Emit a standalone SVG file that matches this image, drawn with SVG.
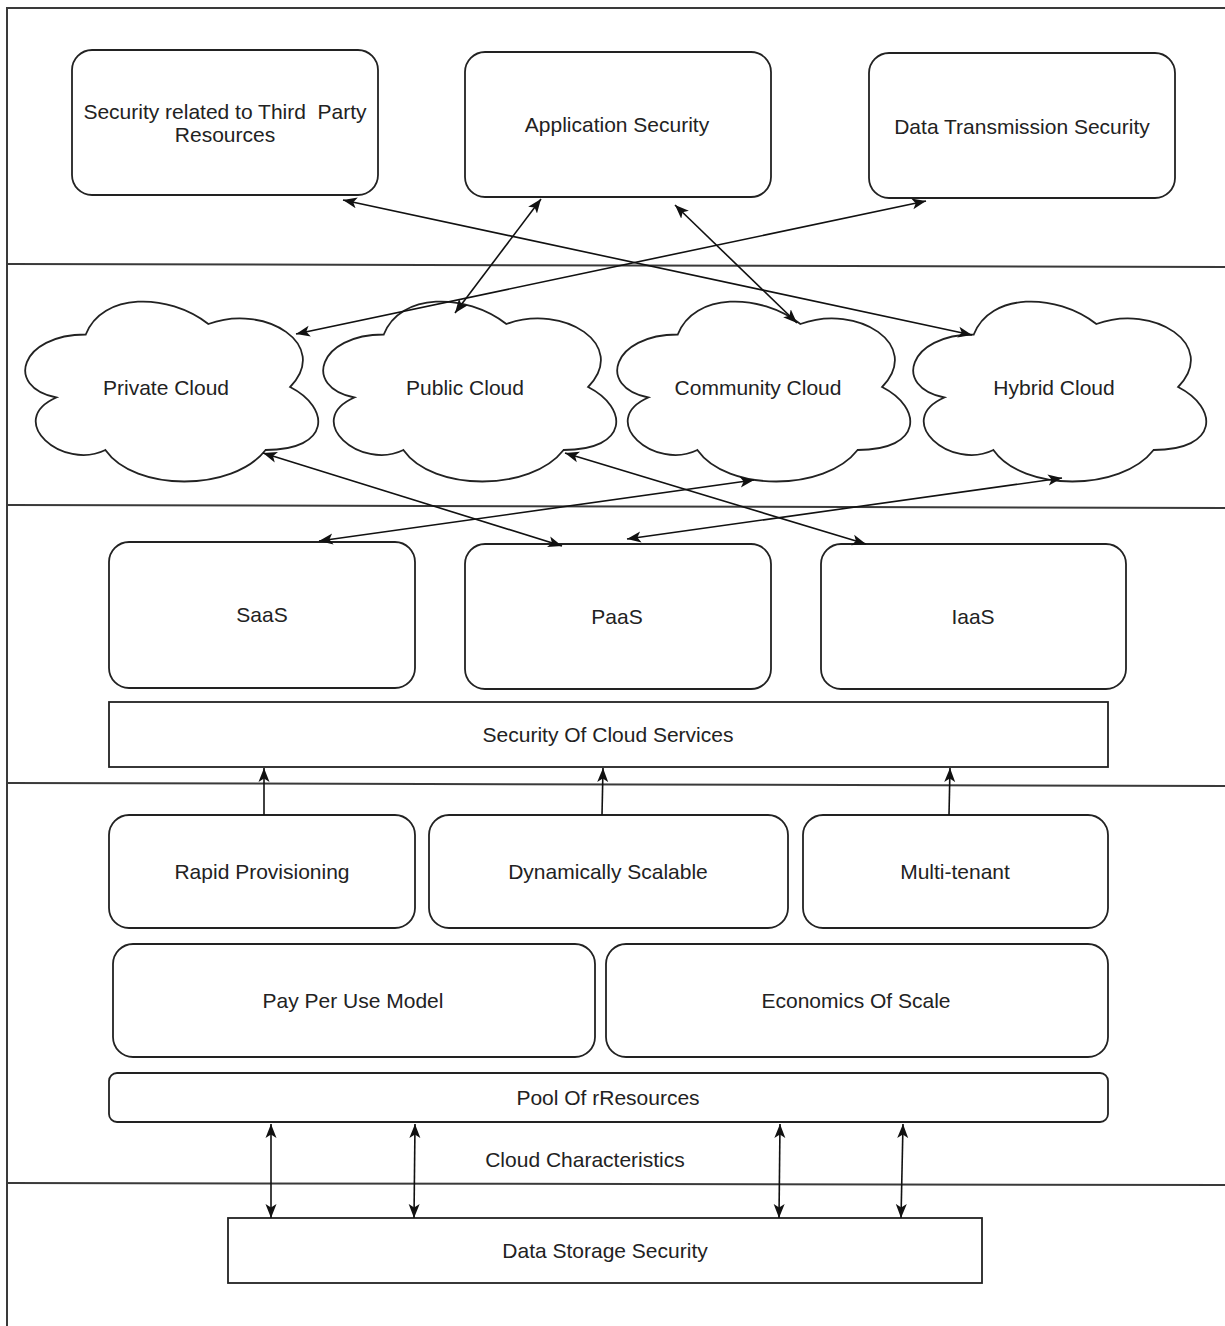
<svg xmlns="http://www.w3.org/2000/svg" xmlns:xlink="http://www.w3.org/1999/xlink" width="1225" height="1326" viewBox="0 0 1225 1326">
<style>
  .box { fill: #fff; stroke: #222; stroke-width: 1.8; }
  .lbl { font-family: "Liberation Sans", Arial, sans-serif; font-size: 21px; fill: #222; text-anchor: middle; white-space: pre; }
  .sep { stroke: #3a3a3a; stroke-width: 2; fill: none; }
  .con { stroke: #111; stroke-width: 1.6; fill: none; }
</style>
<defs>
  <marker id="ah" markerWidth="16" markerHeight="14" viewBox="0 0 16 14" refX="14" refY="7" orient="auto-start-reverse" markerUnits="userSpaceOnUse">
    <path d="M0,1.5 L14,7 L0,12.5 L3.5,7 Z" fill="#111"/>
  </marker>
  <path id="cloud" d="M81.75,52.5 C16.35,52.5 0,105 52.32,115.5 C0,138.6 58.86,189 101.37,168 C130.8,210 228.9,210 261.6,168 C327,168 327,126 286.13,105 C327,63 261.6,21 204.38,42 C163.5,10.5 98.1,10.5 81.75,52.5 Z"/>
</defs>
<rect width="1225" height="1326" fill="#fff"/>

<g id="frame">
  <path class="sep" d="M7,1326 V8 H1225"/>
  <line class="sep" x1="7" y1="264" x2="1225" y2="267"/>
  <line class="sep" x1="7" y1="505" x2="1225" y2="508"/>
  <line class="sep" x1="7" y1="783" x2="1225" y2="786"/>
  <line class="sep" x1="7" y1="1183" x2="1225" y2="1185"/>
</g>

<g id="third-party">
  <rect class="box" x="72" y="50" width="306" height="145" rx="20"/>
  <text class="lbl" x="225" y="119" xml:space="preserve">Security related to Third  Party</text>
  <text class="lbl" x="225" y="142">Resources</text>
</g>
<g id="app-security">
  <rect class="box" x="465" y="52" width="306" height="145" rx="20"/>
  <text class="lbl" x="617" y="132">Application Security</text>
</g>
<g id="data-transmission">
  <rect class="box" x="869" y="53" width="306" height="145" rx="20"/>
  <text class="lbl" x="1022" y="134">Data Transmission Security</text>
</g>

<g id="private-cloud">
  <use xlink:href="#cloud" href="#cloud" transform="translate(4,282)" class="box"/>
  <text class="lbl" x="166" y="395">Private Cloud</text>
</g>
<g id="public-cloud">
  <use xlink:href="#cloud" href="#cloud" transform="translate(302,282)" class="box"/>
  <text class="lbl" x="465" y="395">Public Cloud</text>
</g>
<g id="community-cloud">
  <use xlink:href="#cloud" href="#cloud" transform="translate(596,282)" class="box"/>
  <text class="lbl" x="758" y="395">Community Cloud</text>
</g>
<g id="hybrid-cloud">
  <use xlink:href="#cloud" href="#cloud" transform="translate(892,282)" class="box"/>
  <text class="lbl" x="1054" y="395">Hybrid Cloud</text>
</g>

<g id="saas">
  <rect class="box" x="109" y="542" width="306" height="146" rx="20"/>
  <text class="lbl" x="262" y="622">SaaS</text>
</g>
<g id="paas">
  <rect class="box" x="465" y="544" width="306" height="145" rx="20"/>
  <text class="lbl" x="617" y="624">PaaS</text>
</g>
<g id="iaas">
  <rect class="box" x="821" y="544" width="305" height="145" rx="20"/>
  <text class="lbl" x="973" y="624">IaaS</text>
</g>
<g id="security-cloud-services">
  <rect class="box" x="109" y="702" width="999" height="65"/>
  <text class="lbl" x="608" y="742">Security Of Cloud Services</text>
</g>

<g id="rapid-provisioning">
  <rect class="box" x="109" y="815" width="306" height="113" rx="20"/>
  <text class="lbl" x="262" y="879">Rapid Provisioning</text>
</g>
<g id="dynamically-scalable">
  <rect class="box" x="429" y="815" width="359" height="113" rx="20"/>
  <text class="lbl" x="608" y="879">Dynamically Scalable</text>
</g>
<g id="multi-tenant">
  <rect class="box" x="803" y="815" width="305" height="113" rx="20"/>
  <text class="lbl" x="955" y="879">Multi-tenant</text>
</g>
<g id="pay-per-use">
  <rect class="box" x="113" y="944" width="482" height="113" rx="20"/>
  <text class="lbl" x="353" y="1008">Pay Per Use Model</text>
</g>
<g id="economics-of-scale">
  <rect class="box" x="606" y="944" width="502" height="113" rx="20"/>
  <text class="lbl" x="856" y="1008">Economics Of Scale</text>
</g>
<g id="pool-of-resources">
  <rect class="box" x="109" y="1073" width="999" height="49" rx="8"/>
  <text class="lbl" x="608" y="1105">Pool Of rResources</text>
</g>
<g id="cloud-characteristics">
  <text class="lbl" x="585" y="1167">Cloud Characteristics</text>
</g>
<g id="data-storage-security">
  <rect class="box" x="228" y="1218" width="754" height="65"/>
  <text class="lbl" x="605" y="1258">Data Storage Security</text>
</g>

<g id="connectors">
  <line class="con" x1="343" y1="200" x2="972" y2="335" marker-start="url(#ah)" marker-end="url(#ah)"/>
  <line class="con" x1="926" y1="201" x2="296" y2="334" marker-start="url(#ah)" marker-end="url(#ah)"/>
  <line class="con" x1="541" y1="199" x2="455" y2="313" marker-start="url(#ah)" marker-end="url(#ah)"/>
  <line class="con" x1="675" y1="205" x2="797" y2="323" marker-start="url(#ah)" marker-end="url(#ah)"/>
  <line class="con" x1="263" y1="453" x2="562" y2="546" marker-start="url(#ah)" marker-end="url(#ah)"/>
  <line class="con" x1="565" y1="453" x2="866" y2="544" marker-start="url(#ah)" marker-end="url(#ah)"/>
  <line class="con" x1="754" y1="480" x2="319" y2="541" marker-start="url(#ah)" marker-end="url(#ah)"/>
  <line class="con" x1="1062" y1="478" x2="627" y2="539" marker-start="url(#ah)" marker-end="url(#ah)"/>
  <line class="con" x1="264" y1="815" x2="264" y2="768" marker-end="url(#ah)"/>
  <line class="con" x1="602" y1="815" x2="603" y2="768" marker-end="url(#ah)"/>
  <line class="con" x1="949" y1="815" x2="950" y2="768" marker-end="url(#ah)"/>
  <line class="con" x1="271" y1="1124" x2="271" y2="1218" marker-start="url(#ah)" marker-end="url(#ah)"/>
  <line class="con" x1="415" y1="1124" x2="414" y2="1218" marker-start="url(#ah)" marker-end="url(#ah)"/>
  <line class="con" x1="780" y1="1124" x2="779" y2="1218" marker-start="url(#ah)" marker-end="url(#ah)"/>
  <line class="con" x1="903" y1="1124" x2="901" y2="1218" marker-start="url(#ah)" marker-end="url(#ah)"/>
</g>
</svg>
